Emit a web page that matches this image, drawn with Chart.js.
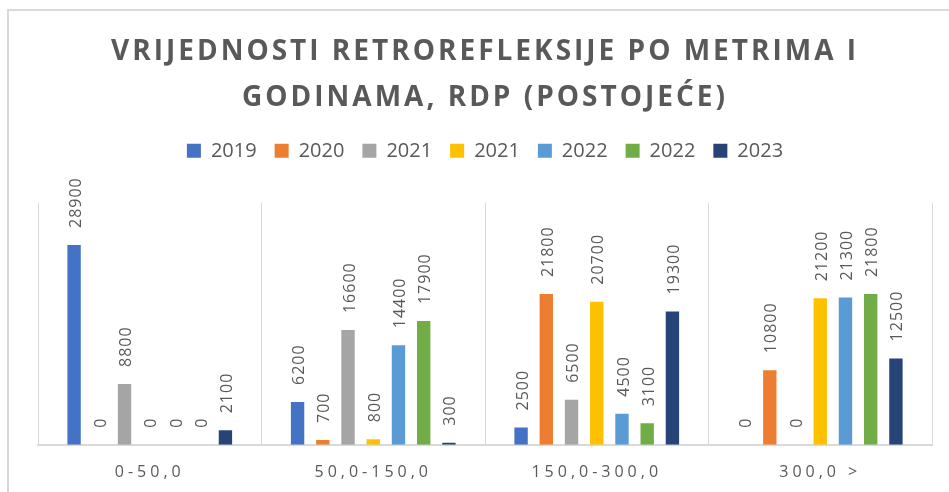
<!DOCTYPE html>
<html>
<head>
<meta charset="utf-8">
<script src="https://cdn.jsdelivr.net/npm/chart.js@4.4.1/dist/chart.umd.min.js"></script>
<style>
  html, body { margin: 0; padding: 0; background: #fff; overflow: hidden; }
  /* light frame of the original chart, only top and left edges are visible */
  #frame { position: absolute; left: 7px; top: 9px; width: 1000px; height: 600px;
           border-left: 2px solid #d9d9d9; border-top: 2px solid #d9d9d9; }
  #retroChart { position: absolute; left: 0; top: 0; }
</style>
</head>
<body>
<div id="frame"></div>
<canvas id="retroChart" width="949" height="492"></canvas>
<script>
// Categories on the x-axis (meters)
const categories = ['0-50,0', '50,0-150,0', '150,0-300,0', '300,0 >'];

// Series names as they appear in the legend
const seriesLabels = ['2019', '2020', '2021', '2021', '2022', '2022', '2023'];

// Values per series, one number per category
const values2019  = [28900, 6200, 2500, 0];
const values2020  = [0, 700, 21800, 10800];
const values2021a = [8800, 16600, 6500, 0];
const values2021b = [0, 800, 20700, 21200];
const values2022a = [0, 14400, 4500, 21300];
const values2022b = [0, 17900, 3100, 21800];
const values2023  = [2100, 300, 19300, 12500];

const seriesValues = [values2019, values2020, values2021a, values2021b, values2022a, values2022b, values2023];

// Office palette colours for the bars
const seriesColors = ['#4472C4', '#ED7D31', '#A5A5A5', '#FFC000', '#5B9BD5', '#70AD47', '#264478'];

const textColor = '#595959';
const gridColor = '#d9d9d9';

// Small plugin: values written vertically above each bar,
// plus letter spacing for the title and the category labels
const barValueLabels = {
    id: 'barValueLabels',
    afterUpdate(chart) {
        const c = chart.ctx;
        const tb = chart.titleBlock;
        if (tb && !tb._spaced) {
            const draw = tb.draw;
            tb.draw = function () {
                c.save();
                c.letterSpacing = '3px';
                draw.apply(this, arguments);
                c.restore();
            };
            tb._spaced = true;
        }
        const xs = chart.scales.x;
        if (xs && !xs._spaced) {
            const drawLabels = xs.drawLabels;
            xs.drawLabels = function () {
                c.save();
                c.letterSpacing = '4px';
                drawLabels.apply(this, arguments);
                c.restore();
            };
            xs._spaced = true;
        }
    },
    afterDatasetsDraw(chart) {
        const c = chart.ctx;
        c.save();
        c.font = '16px "Open Sans"';
        c.fillStyle = textColor;
        c.letterSpacing = '1px';
        c.textAlign = 'left';
        c.textBaseline = 'middle';
        chart.data.datasets.forEach((ds, i) => {
            chart.getDatasetMeta(i).data.forEach((bar, j) => {
                c.save();
                c.translate(bar.x + 2, bar.y - 17);
                c.rotate(-Math.PI / 2);
                c.fillText(String(ds.data[j]), 0, 0);
                c.restore();
            });
        });
        c.restore();
    }
};

const ctx = document.getElementById('retroChart').getContext('2d');

new Chart(ctx, {
    type: 'bar',
    data: {
        labels: categories,
        datasets: seriesLabels.map((name, i) => ({
            label: name,
            data: seriesValues[i],
            backgroundColor: seriesColors[i],
            borderWidth: 0,
            barPercentage: 0.53,
            categoryPercentage: 0.79
        }))
    },
    options: {
        responsive: false,
        animation: false,
        devicePixelRatio: 1,
        layout: { padding: { left: 38, right: 17, top: 0, bottom: -8 } },
        plugins: {
            title: {
                display: true,
                text: ['VRIJEDNOSTI RETROREFLEKSIJE PO METRIMA I', 'GODINAMA, RDP (POSTOJEĆE)'],
                color: textColor,
                font: { family: '"Open Sans"', size: 28, weight: 'bold', lineHeight: 1.64 },
                padding: { top: 29, bottom: 2 }
            },
            // empty subtitle used as a spacer between legend and plot
            subtitle: {
                display: true,
                text: '',
                weight: 500,
                font: { size: 1, lineHeight: 1 },
                padding: { top: 31, bottom: 0 }
            },
            legend: {
                position: 'top',
                labels: {
                    color: textColor,
                    font: { family: '"Open Sans"', size: 20 },
                    boxWidth: 14,
                    boxHeight: 14,
                    padding: 18
                }
            },
            tooltip: { enabled: false }
        },
        scales: {
            x: {
                grid: { display: true, offset: true, color: gridColor, drawTicks: false },
                border: { display: true, color: gridColor, width: 2 },
                ticks: {
                    color: textColor,
                    font: { family: '"Open Sans"', size: 16 },
                    padding: 18
                }
            },
            y: {
                display: false,
                min: 0,
                max: 35000
            }
        }
    },
    plugins: [barValueLabels]
});
</script>
</body>
</html>
